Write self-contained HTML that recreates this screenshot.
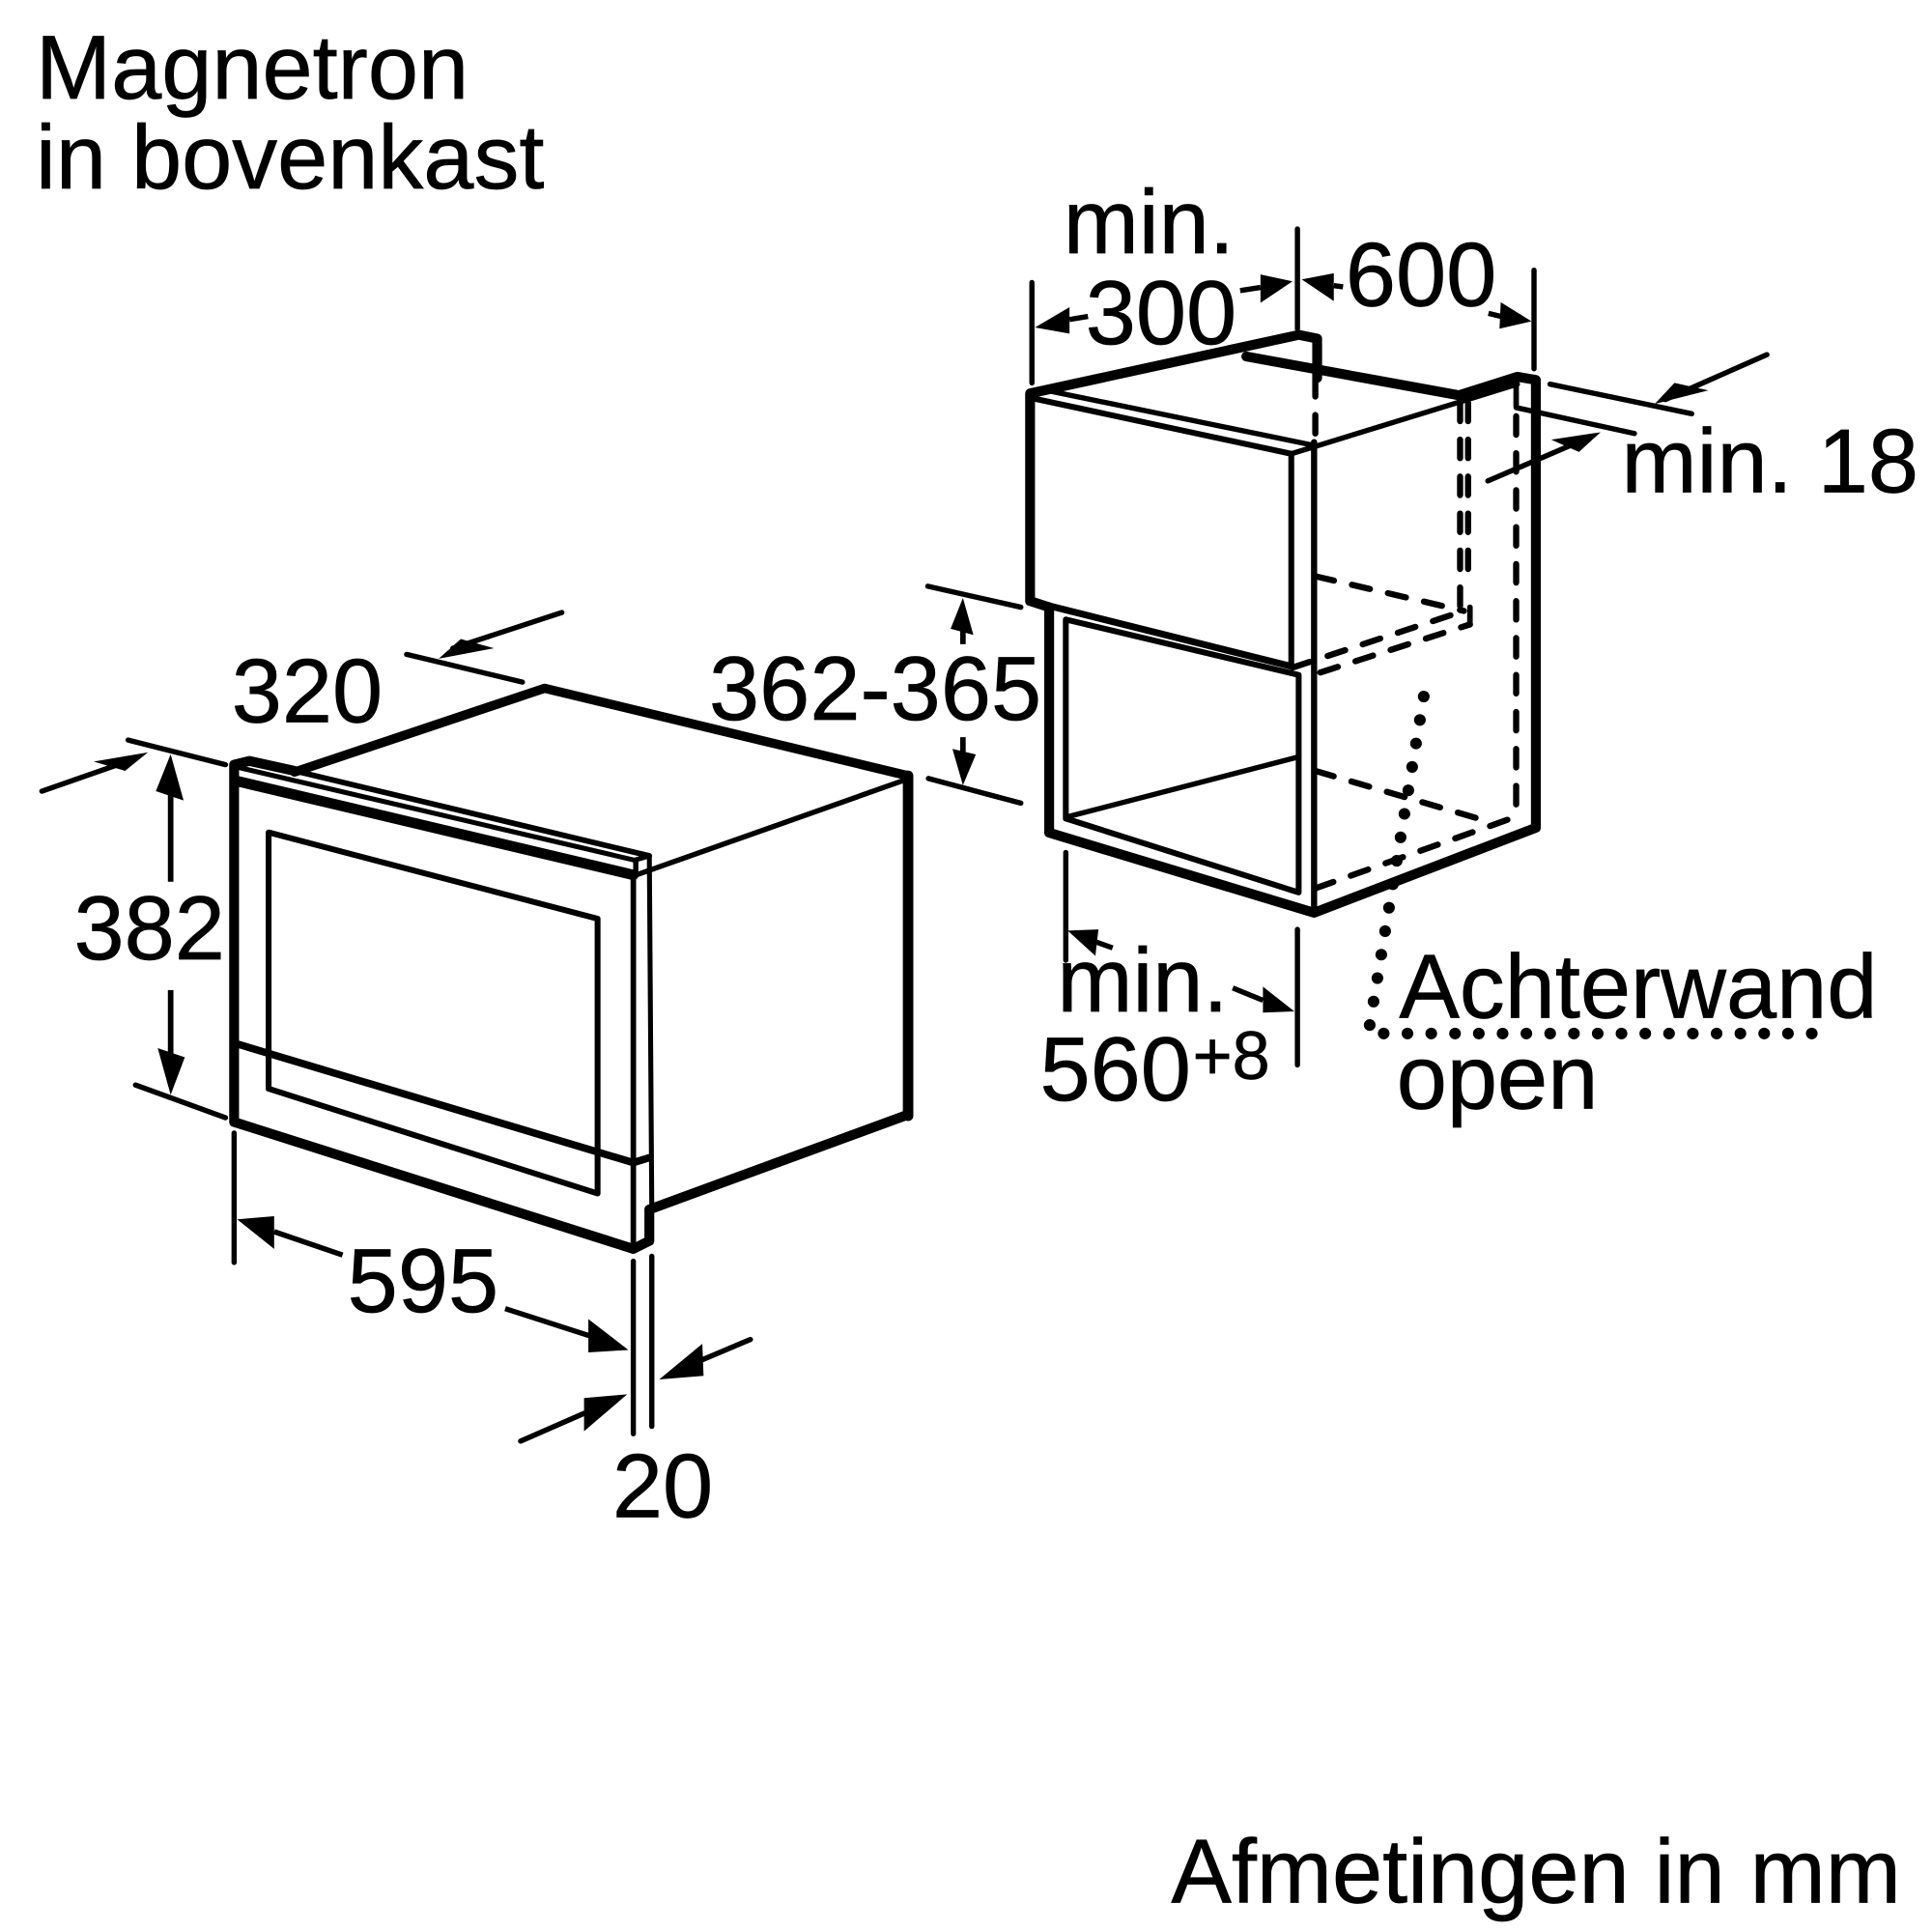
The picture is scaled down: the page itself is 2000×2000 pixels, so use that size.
<!DOCTYPE html>
<html>
<head>
<meta charset="utf-8">
<style>
html,body{margin:0;padding:0;background:#fff;}
svg{display:block;}
text{font-family:"Liberation Sans",sans-serif;font-size:147px;fill:#000;stroke:#000;stroke-width:1;}
.k{stroke:#000;fill:none;stroke-linecap:round;stroke-linejoin:round;}
.s{stroke-width:8.5;}
.d{stroke-width:10;stroke-dasharray:30 30;stroke-linecap:round;}
.dot{stroke-width:19;stroke-dasharray:0 38.6;stroke-linecap:round;fill:none;stroke:#000;}
polygon{fill:#000;stroke:none;}
</style>
</head>
<body>
<svg width="2000" height="2000" viewBox="0 0 3136 3136" xmlns="http://www.w3.org/2000/svg">
<rect width="3136" height="3136" fill="#fff"/>
<text x="58" y="160">Magnetron</text>
<text x="58" y="306">in bovenkast</text>
<text x="1901" y="3088">Afmetingen in mm</text>

<!-- microwave -->
<g transform="translate(0,1019.2)">
<polyline class="k" style="stroke-width:15" points="478,234 884,98 1474,240"/>
<polyline class="k" style="stroke-width:17" points="1474,240 1474,792"/>
<polyline class="k" style="stroke-width:16" points="1474,790 1054,944 1054,995 1028,1008 380,802 380,222 405,216 478,232"/>
<polyline class="k" style="stroke-width:17" points="382,248 1028,401"/>
<polyline class="k" style="stroke-width:8" points="385,226 1030,377 1054,370"/>
<polyline class="k" style="stroke-width:9" points="478,232 1054,370"/>
<polyline class="k" style="stroke-width:8" points="1054,370 1058,945"/>
<polyline class="k" style="stroke-width:9" points="1028,400 1028,1008"/>
<polyline class="k s" points="1032,380 1032,400"/>
<polyline class="k s" points="1030,402 1474,245"/>
<polygon points="436,332 970,472 970,918 436,748" style="fill:none;stroke:#000;stroke-width:9.5;stroke-linejoin:round"/>
<polyline class="k" style="stroke-width:12" points="384,675 1028,868 1054,860"/>

<polyline class="k s" points="660,43 848,88"/>
<polyline class="k s" points="735,33 912,-25"/>
<polygon points="712,50 748,18 802,33"/>
<polyline class="k s" points="208,182 366,222"/>
<polyline class="k s" points="68,265 220,212"/>
<polygon points="240,202 152,217 203,232"/>
<polyline class="k" style="stroke-width:9;stroke-linecap:butt" points="277,412 277,260"/>
<polygon points="277,205 253,265 298,280"/>
<polyline class="k" style="stroke-width:9;stroke-linecap:butt" points="277,588 277,695"/>
<polygon points="277,758 256,682 300,697"/>
<polyline class="k s" points="220,742 366,795"/>
<polyline class="k s" points="380,820 380,1030"/>
<polyline class="k" style="stroke-width:8.5;stroke-linecap:butt" points="445,980 556,1018"/>
<polygon points="385,960 445,955 445,1008"/>
<polyline class="k" style="stroke-width:8.5;stroke-linecap:butt" points="820,1105 960,1150"/>
<polygon points="1020,1172 955,1122 955,1176"/>
<polyline class="k s" points="1028,1028 1028,1308"/>
<polyline class="k s" points="1058,1020 1058,1296"/>
<polyline class="k s" points="1218,1155 1140,1188"/>
<polygon points="1070,1220 1140,1162 1142,1214"/>
<polyline class="k s" points="845,1320 948,1275"/>
<polygon points="1018,1244 948,1250 948,1304"/>

<text x="376" y="153">320</text>
<text x="120" y="538">382</text>
<text x="564" y="1110">595</text>
<text x="994" y="1443">20</text>
<text x="1151" y="149">362-365</text>
</g>

<!-- cabinet -->
<g transform="translate(1568,313.6)">
<polyline class="k" style="stroke-width:16" points="135,672 104,662 104,325 540,230 570,236 570,300"/>
<polyline class="k" style="stroke-width:16" points="455,265 800,328 895,298 925,303 925,1030 565,1168 135,1038 135,672"/>
<polyline class="k" style="stroke-width:9.5" points="104,332 528,423 528,768"/>
<polyline class="k s" points="140,322 568,410"/>
<polyline class="k s" points="528,423 895,310"/>
<polyline class="k" style="stroke-width:10" points="565,404 565,1168"/>
<polyline class="k d" points="567,300 567,404"/>
<polyline class="k" style="stroke-width:11" points="104,662 528,768"/>
<polygon points="162,692 540,782 540,1135 162,1015" style="fill:none;stroke:#000;stroke-width:9.5;stroke-linejoin:round"/>
<polyline class="k s" points="162,1013 540,915"/>

<polyline class="k d" points="568,622 808,678"/>
<polyline class="k d" points="530,770 808,678"/>
<polyline class="k d" points="575,778 818,700"/>
<polyline class="k" style="stroke-width:9" points="818,672 818,700"/>
<polyline class="k d" points="802,340 802,680"/>
<polyline class="k d" points="815,340 815,640"/>
<polyline class="k" style="stroke-width:9" points="893,310 893,346"/>
<polyline class="k d" points="893,362 893,1012"/>
<polyline class="k d" points="568,938 855,1022"/>
<polyline class="k d" points="568,1128 893,1012"/>

<polyline class="dot" points="743,817 655,1352"/>
<polyline class="dot" points="678,1364 1380,1364"/>

<polyline class="k s" points="107,145 107,308"/>
<polyline class="k s" points="538,58 538,220"/>
<polyline class="k s" points="922,125 922,285"/>
<polyline class="k" style="stroke-width:8.5;stroke-linecap:butt" points="168,205 198,200"/>
<polygon points="112,218 168,185 168,228"/>
<polyline class="k" style="stroke-width:8.5;stroke-linecap:butt" points="445,158 478,153"/>
<polygon points="530,143 478,132 478,178"/>
<polyline class="k" style="stroke-width:8.5;stroke-linecap:butt" points="597,150 612,152"/>
<polygon points="545,140 597,130 597,175"/>
<polyline class="k" style="stroke-width:8.5;stroke-linecap:butt" points="848,195 868,200"/>
<polygon points="918,208 868,177 866,220"/>

<polyline class="k s" points="948,310 1178,358"/>
<polyline class="k s" points="893,348 1085,390"/>
<polyline class="k s" points="1300,262 1135,335"/>
<polygon points="1118,342 1150,308 1205,320"/>
<polyline class="k s" points="847,467 1015,395"/>
<polygon points="1030,388 950,400 995,420"/>

<polyline class="k s" points="-62,638 89,672"/>
<polyline class="k s" points="-61,950 89,990"/>
<polyline class="k" style="stroke-width:9;stroke-linecap:butt" points="-5,700 -5,732"/>
<polygon points="-5,657 -25,707 12,717"/>
<polyline class="k" style="stroke-width:9;stroke-linecap:butt" points="-5,883 -5,915"/>
<polygon points="-5,961 -22,902 16,911"/>

<polyline class="k s" points="162,1070 162,1245"/>
<polyline class="k s" points="538,1195 538,1415"/>
<polyline class="k" style="stroke-width:8.5;stroke-linecap:butt" points="210,1215 238,1225"/>
<polygon points="165,1197 215,1195 210,1238"/>
<polyline class="k" style="stroke-width:8.5;stroke-linecap:butt" points="433,1290 482,1310"/>
<polygon points="533,1328 482,1288 482,1330"/>

<text x="158" y="97">min.</text>
<text x="194" y="245">300</text>
<text x="616" y="183">600</text>
<text x="1064" y="485">min. 18</text>
<text x="148" y="1328">min.</text>
<text x="120" y="1472">560</text>
<text x="368" y="1438" style="font-size:110px">+8</text>
<text x="703" y="1338">Achterwand</text>
<text x="699" y="1486">open</text>
</g>
</svg>
</body>
</html>
